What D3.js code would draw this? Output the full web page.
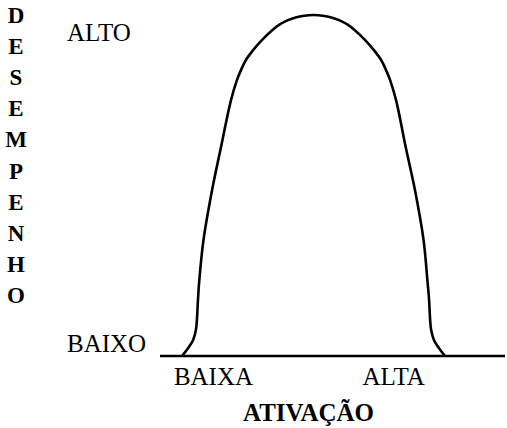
<!DOCTYPE html>
<html>
<head>
<meta charset="utf-8">
<script src="https://cdn.jsdelivr.net/npm/d3@7"></script>
<style>
  html, body { margin: 0; padding: 0; background: #fff; }
  svg { display: block; }
  text { font-family: "Liberation Serif", "Times New Roman", serif; fill: #000; }
</style>
</head>
<body>
<svg id="chart" width="507" height="428"></svg>
<script>
// Inverted-U relation between activation (x) and performance (y), 0–100 scale
const activation = [6.4, 7.8, 9.6, 10.4, 10.7, 11.0, 11.4, 12.6, 15.1, 17.5, 20.6, 22.3, 23.5, 24.9, 27.0,
                    29.6, 32.6, 34.5, 37.1, 39.3, 41.3, 44.5,
                    47.7, 49.7, 51.9, 54.5, 56.4, 59.4, 62.0, 64.1, 65.5, 66.7, 68.4, 71.4, 73.9, 76.4,
                    77.5, 78.0, 78.3, 78.6, 79.4, 81.2, 82.6];
const performance = [0, 1.8, 4.7, 7.6, 10.6, 16.4, 22.3, 34.0, 48.7, 60.4, 75.1, 80.9, 83.9, 86.8, 89.7,
                     92.7, 95.6, 97.1, 98.5, 99.3, 99.7, 100,
                     99.7, 99.3, 98.5, 97.1, 95.6, 92.7, 89.7, 86.8, 83.9, 80.9, 75.1, 60.4, 48.7, 34.0,
                     22.3, 16.4, 10.6, 7.6, 4.7, 1.8, 0];

// Axis tick labels
const xTickLabels = ["BAIXA", "ALTA"];
const xTickValues = [15.5, 67.7];
const yTickLabels = ["ALTO", "BAIXO"];
const yTickValues = [94.9, 3.8];

const xTitle = "ATIVAÇÃO";
const yTitle = "DESEMPENHO";

const svg = d3.select("#chart");

const x = d3.scaleLinear().domain([0, 100]).range([160, 505]);
const y = d3.scaleLinear().domain([0, 100]).range([356, 15]);

// Horizontal axis line
svg.append("line")
  .attr("x1", x(0)).attr("x2", x(100))
  .attr("y1", y(0)).attr("y2", y(0))
  .attr("stroke", "#000").attr("stroke-width", 2.5);

// Curve
const pts = activation.map((a, i) => [a, performance[i]]);
const line = d3.line()
  .x(d => x(d[0]))
  .y(d => y(d[1]))
  .curve(d3.curveCatmullRom.alpha(0.5));

svg.append("path")
  .datum(pts)
  .attr("d", line)
  .attr("fill", "none")
  .attr("stroke", "#000")
  .attr("stroke-width", 2.6)
  .attr("stroke-linejoin", "round");

// X tick labels
svg.selectAll("text.xtick")
  .data(xTickLabels)
  .join("text")
  .attr("class", "xtick")
  .attr("x", (d, i) => x(xTickValues[i]))
  .attr("y", 385)
  .attr("text-anchor", "middle")
  .style("font-size", "25px")
  .text(d => d);

// Y tick labels
svg.selectAll("text.ytick")
  .data(yTickLabels)
  .join("text")
  .attr("class", "ytick")
  .attr("x", 67)
  .attr("y", (d, i) => y(yTickValues[i]))
  .attr("dy", "0.35em")
  .style("font-size", "25px")
  .text(d => d);

// X title
svg.append("text")
  .attr("x", 308.5)
  .attr("y", 421)
  .attr("text-anchor", "middle")
  .style("font-size", "25px")
  .style("font-weight", "bold")
  .text(xTitle);

// Y title, stacked letter by letter
svg.selectAll("text.ytitle")
  .data(Array.from(yTitle))
  .join("text")
  .attr("class", "ytitle")
  .attr("x", 16)
  .attr("y", (d, i) => 23 + i * 31.1)
  .attr("text-anchor", "middle")
  .style("font-size", "23px")
  .style("font-weight", "bold")
  .text(d => d);
</script>
</body>
</html>
